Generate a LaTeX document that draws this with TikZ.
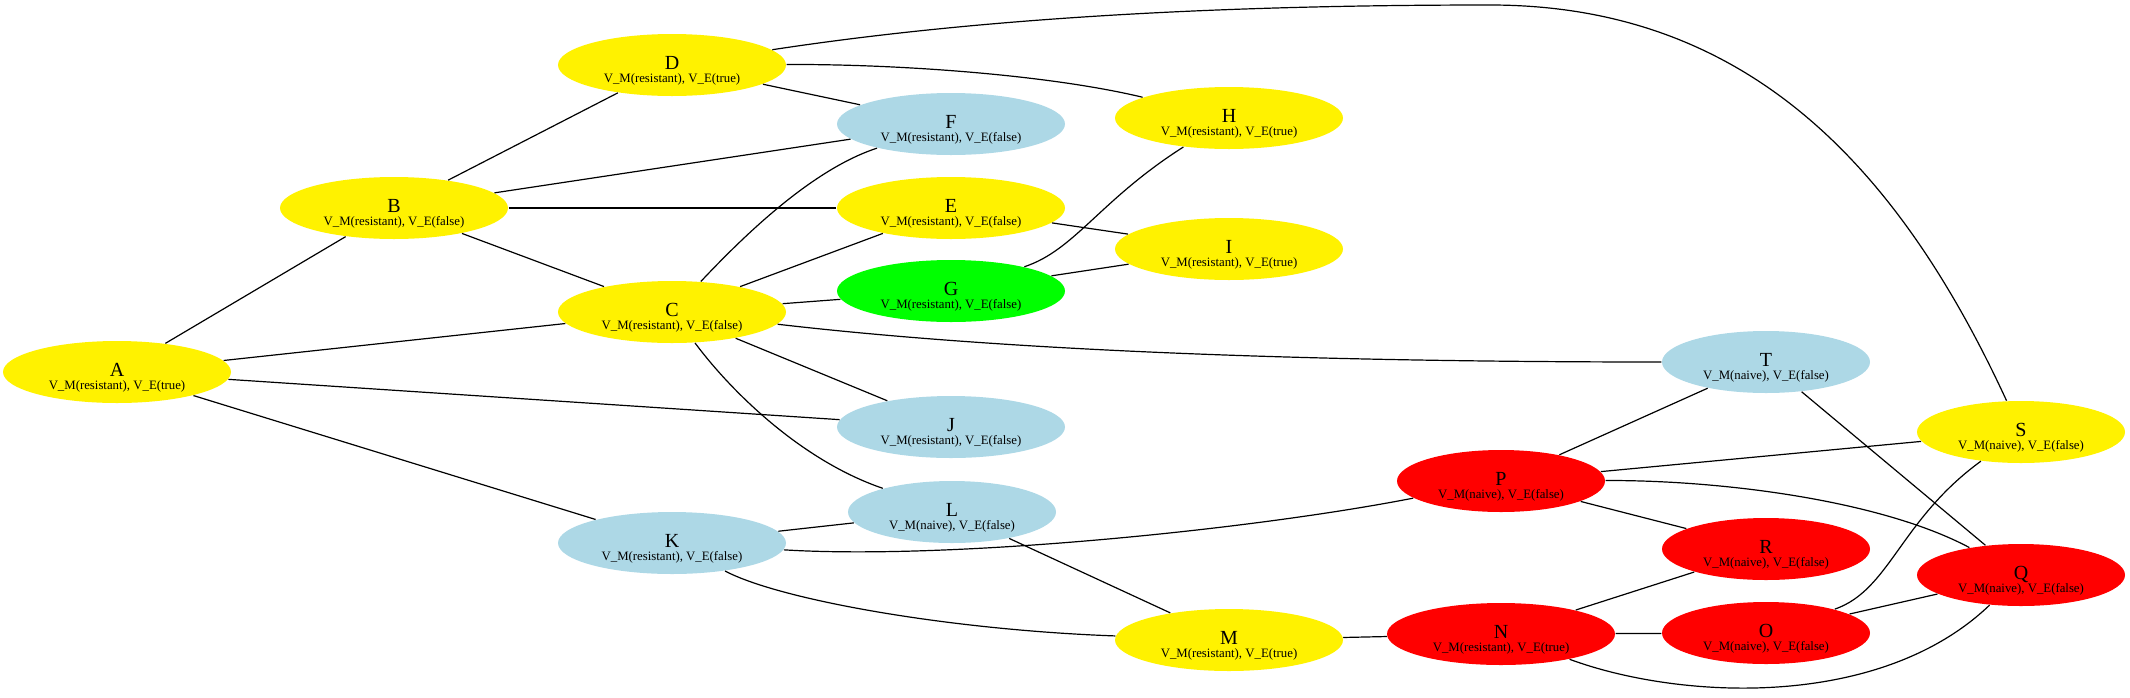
\documentclass[tikz,border=0pt]{standalone}
\usepackage{fontspec}
\setmainfont{Liberation Serif}
\usetikzlibrary{shapes.geometric}
\definecolor{lblue}{RGB}{173,216,230}
\definecolor{lgreen}{RGB}{0,255,0}
\newcommand{\lab}[3]{\rule{0pt}{12pt}#1\\[-4.5pt]{\fontsize{6.4}{7}\selectfont V\_M(#2), V\_E(#3)}}

\begin{document}
\begin{tikzpicture}[x=0.5pt,y=-0.5pt,line width=0.6pt,
  st/.style={ellipse,inner sep=0pt,minimum height=31pt,align=center,
    font=\fontsize{10}{11}\selectfont},
  res/.style={st,minimum width=114pt},
  nai/.style={st,minimum width=104pt}]
\useasboundingbox (0,0) rectangle (2130,697);

\node[res,fill=yellow] (A) at (117,372) {\lab{A}{resistant}{true}};
\node[res,fill=yellow] (B) at (394,208) {\lab{B}{resistant}{false}};
\node[res,fill=yellow] (C) at (672,312) {\lab{C}{resistant}{false}};
\node[res,fill=yellow] (D) at (672,65) {\lab{D}{resistant}{true}};
\node[res,fill=yellow] (E) at (951,208) {\lab{E}{resistant}{false}};
\node[res,fill=lblue] (F) at (951,124) {\lab{F}{resistant}{false}};
\node[res,fill=lgreen] (G) at (951,291) {\lab{G}{resistant}{false}};
\node[res,fill=yellow] (H) at (1229,118) {\lab{H}{resistant}{true}};
\node[res,fill=yellow] (I) at (1229,249) {\lab{I}{resistant}{true}};
\node[res,fill=lblue] (J) at (951,427) {\lab{J}{resistant}{false}};
\node[res,fill=lblue] (K) at (672,543) {\lab{K}{resistant}{false}};
\node[nai,fill=lblue] (L) at (952,512) {\lab{L}{naive}{false}};
\node[res,fill=yellow] (M) at (1229,640) {\lab{M}{resistant}{true}};
\node[res,fill=red] (N) at (1501,634) {\lab{N}{resistant}{true}};
\node[nai,fill=red] (O) at (1766,633) {\lab{O}{naive}{false}};
\node[nai,fill=red] (P) at (1501,481) {\lab{P}{naive}{false}};
\node[nai,fill=red] (Q) at (2021,575) {\lab{Q}{naive}{false}};
\node[nai,fill=red] (R) at (1766,549) {\lab{R}{naive}{false}};
\node[nai,fill=yellow] (S) at (2021,432) {\lab{S}{naive}{false}};
\node[nai,fill=lblue] (T) at (1766,362) {\lab{T}{naive}{false}};

% straight edges
\foreach \a/\b in {A/B,A/C,A/J,A/K,B/D,B/F,B/E,B/C,D/F,C/E,C/G,C/J,
  E/I,G/I,K/L,L/M,M/N,N/R,N/O,P/T,P/S,P/R,T/Q,O/Q}
  \draw (\a) -- (\b);

% bent edges
\draw (C) .. controls (740,240) and (810,170) .. (F);
\draw (C) .. controls (730,390) and (800,460) .. (L);
\draw (G) .. controls (1075,250) and (1100,200) .. (H);
\draw (D) .. controls (900,64) and (1050,75) .. (H);
\draw (D) .. controls (1000,15) and (1250,5) .. (1490,5)
  .. controls (1750,5) and (1900,170) .. (S);
\draw (C) .. controls (1000,350) and (1300,362) .. (T);
\draw (K) .. controls (780,600) and (950,630) .. (M);
\draw (K) .. controls (950,560) and (1250,530) .. (P);
\draw (P) .. controls (1720,480) and (1880,500) .. (Q);
\draw (N) .. controls (1680,700) and (1880,710) .. (Q);
\draw (O) .. controls (1890,590) and (1900,520) .. (S);

\end{tikzpicture}
\end{document}
